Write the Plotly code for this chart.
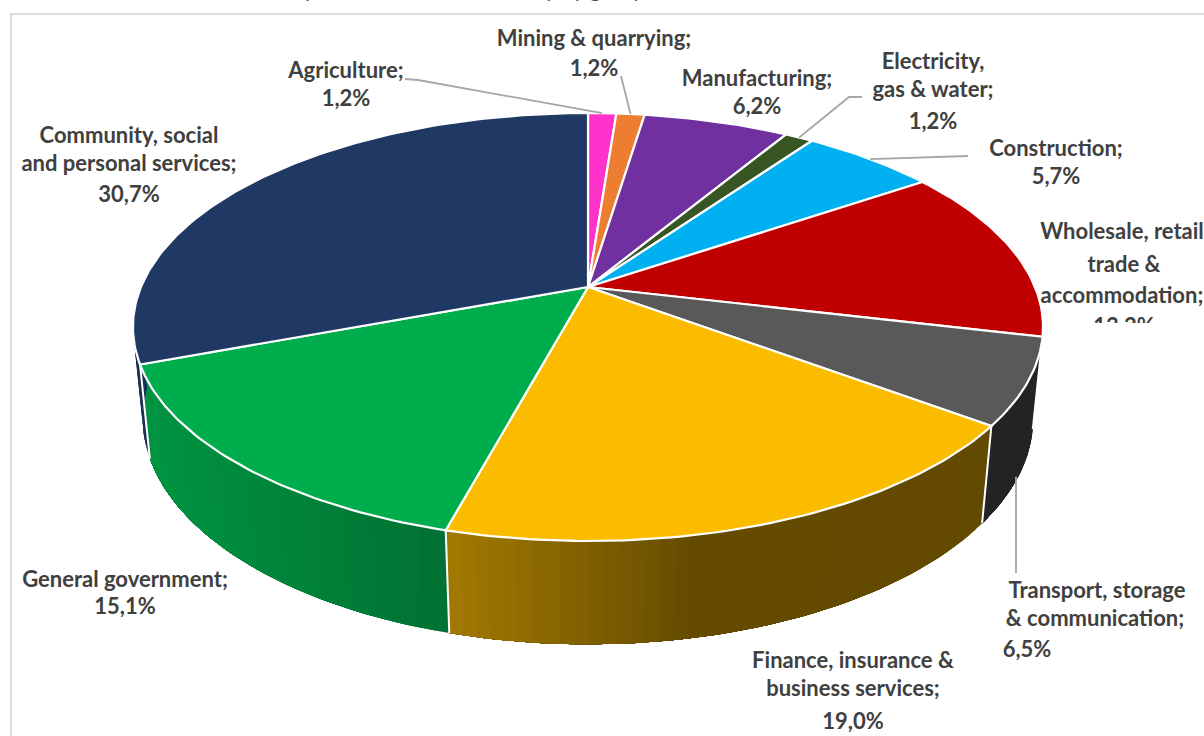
import numpy as np
import plotly.graph_objects as go

# GVA share per sector, clockwise from 12 o'clock
sectors = ["Agriculture", "Mining & quarrying", "Manufacturing", "Electricity, gas & water",
           "Construction", "Wholesale, retail trade & accommodation",
           "Transport, storage & communication", "Finance, insurance & business services",
           "General government", "Community, social and personal services"]
shares = [1.2, 1.2, 6.2, 1.2, 5.7, 13.2, 6.5, 19.0, 15.1, 30.7]
name_lines = [["Agriculture;"], ["Mining & quarrying;"], ["Manufacturing;"],
              ["Electricity,", "gas & water;"], ["Construction;"],
              ["Wholesale, retail", "trade &", "accommodation;"],
              ["Transport, storage", "& communication;"],
              ["Finance, insurance &", "business services;"],
              ["General government;"], ["Community, social", "and personal services;"]]
caption = "GVA contribution per sector in the economy by group"

# Styling
top_colors = ["#FF33CC", "#ED7D31", "#7030A0", "#375623", "#00B0F0",
              "#C00000", "#595959", "#FBBC00", "#00AD4D", "#1F3864"]
label_color = "#404040"
leader_color = "#A6A6A6"
frame_color = "#DCDCDC"
font_family = "Lato"
font_size = 22

# Perspective view of the disc, in page pixels
CX, CY = 588.0, 287.0
A, B, K = 447.0, 206.5, 0.187
THICK, DEPTH_SHIFT = 91.5, 0.021

# Wall lighting falls off from left to right
shade_x = [130, 445, 700, 1050]
shade_v = [0.87, 0.66, 0.40, 0.39]


def project(theta_deg, bottom=False):
    t = np.radians(theta_deg)
    u, v = np.sin(t), np.cos(t)
    w = 1 + K * v + (DEPTH_SHIFT if bottom else 0)
    x = CX + A * u / w
    y = CY + (-B * v + (THICK if bottom else 0)) / w
    return x, y


def darken(hex_color, f):
    r, g, b = (int(hex_color[i:i + 2], 16) for i in (1, 3, 5))
    return f"rgb({r * f:.0f},{g * f:.0f},{b * f:.0f})"


edges = np.concatenate([[0], np.cumsum(shares)]) * 3.6
fig = go.Figure()

# Outer wall, front half only. Each band repaints the rest of its slice, so the
# shading steps along the wall without leaving seams between neighbouring bands.
WALL_FROM, WALL_TO = 93.0, 267.0
seam_x, seam_y = [], []
for i, color in enumerate(top_colors):
    a0, a1 = max(edges[i], WALL_FROM), min(edges[i + 1], WALL_TO)
    if a1 <= a0:
        continue
    steps = np.linspace(a0, a1, max(2, int((a1 - a0) / 1.5) + 1))
    for s0 in steps[:-1]:
        arc = np.linspace(s0, a1, max(3, int(a1 - s0) + 2))
        tx, ty = project(arc)
        bx, by = project(arc[::-1], bottom=True)
        head_x = (project(s0)[0] + project(s0, bottom=True)[0]) / 2
        c = darken(color, float(np.interp(head_x, shade_x, shade_v)))
        fig.add_trace(go.Scatter(x=np.concatenate([tx, bx]), y=np.concatenate([ty, by]),
                                 mode="lines", fill="toself", fillcolor=c,
                                 line=dict(width=0), hoverinfo="skip"))
    if WALL_FROM < edges[i + 1] < WALL_TO:
        tx, ty = project(edges[i + 1])
        bx, by = project(edges[i + 1], bottom=True)
        seam_x += [tx, bx, None]
        seam_y += [ty, by, None]

fig.add_trace(go.Scatter(x=seam_x, y=seam_y, mode="lines",
                         line=dict(color="white", width=2), hoverinfo="skip"))

# Top face
for i, color in enumerate(top_colors):
    arc = np.linspace(edges[i], edges[i + 1], max(3, int(edges[i + 1] - edges[i]) + 2))
    ax, ay = project(arc)
    fig.add_trace(go.Scatter(x=np.concatenate([[CX], ax, [CX]]),
                             y=np.concatenate([[CY], ay, [CY]]),
                             mode="lines", fill="toself", fillcolor=color,
                             line=dict(color="white", width=2.2), name=sectors[i],
                             hoverinfo="skip"))

# Leader lines end on the rim at each slice's middle angle
mids = (edges[:-1] + edges[1:]) / 2
leaders = {0: ([(405, 79), (418, 80)], False),
           1: ([(621, 76)], False),
           3: ([(862, 97), (849, 97)], False),
           4: ([(968, 156)], False),
           6: ([(1016, 573)], True)}
for idx, (elbows, on_bottom) in leaders.items():
    ex, ey = project(mids[idx], bottom=on_bottom)
    if idx == 6:
        ex = elbows[0][0]
    lx = [p[0] for p in elbows] + [ex]
    ly = [p[1] for p in elbows] + [ey]
    fig.add_trace(go.Scatter(x=lx, y=ly, mode="lines",
                             line=dict(color=leader_color, width=1.8), hoverinfo="skip"))

# Text line centres for each sector: name lines first, then the percentage
label_layout = [
    [(346, 72), (346, 100)],
    [(594, 40), (594, 70)],
    [(757, 80), (757, 108)],
    [(933, 63), (933, 91), (933, 123)],
    [(1056, 150), (1056, 178)],
    [(1122, 233), (1124, 266), (1122, 297), (1124, 328)],
    [(1097, 592), (1095, 620), (1027, 651)],
    [(853, 662), (853, 690), (853, 723)],
    [(125, 581), (125, 608)],
    [(129, 137), (129, 165), (129, 196)],
]
tx, ty, tt = [], [], []
for names, share, places in zip(name_lines, shares, label_layout):
    lines = names + [f"{share:.1f}%".replace(".", ",")]
    for line, (px, py) in zip(lines, places):
        tx.append(px)
        ty.append(py)
        tt.append(line)
fig.add_trace(go.Scatter(x=tx, y=ty, text=tt, mode="text", textposition="middle center",
                         textfont=dict(family=font_family, size=font_size, color=label_color,
                                       weight="bold"),
                         cliponaxis=False, hoverinfo="skip"))

fig.update_layout(
    width=1204, height=736, margin=dict(l=0, r=0, t=0, b=0),
    paper_bgcolor="white", plot_bgcolor="white", showlegend=False,
    xaxis=dict(range=[0, 1204], visible=False, fixedrange=True),
    yaxis=dict(range=[736, 0], visible=False, fixedrange=True),
    shapes=[
        dict(type="rect", layer="below", x0=11, y0=14, x1=1400, y1=900,
             line=dict(color=frame_color, width=2), fillcolor="white"),
        # The wholesale percentage is cut off by the label box
        dict(type="rect", layer="above", x0=1046, x1=1204, y0=323, y1=345,
             line=dict(width=0), fillcolor="white"),
    ],
    # Caption above the frame, running off the top of the page
    annotations=[
        dict(x=130, y=3, xref="x", yref="y", text=caption, showarrow=False,
             xanchor="left", yanchor="bottom", borderpad=0,
             font=dict(family=font_family, size=22, color="#44546A")),
    ],
)

fig.write_html("out.html", config={"displayModeBar": False})
